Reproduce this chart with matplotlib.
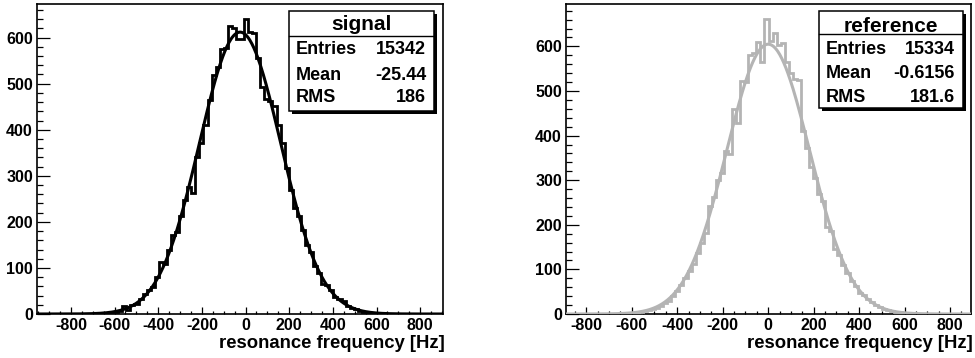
import numpy as np
import matplotlib
matplotlib.use("Agg")
import matplotlib.pyplot as plt
from matplotlib.patches import Rectangle
from matplotlib.transforms import Affine2D
from matplotlib.ticker import MultipleLocator

plt.rcParams['font.family'] = ['Liberation Sans', 'DejaVu Sans']
plt.rcParams['font.weight'] = 'bold'
plt.rcParams['axes.unicode_minus'] = False

# ---------------- data ----------------
signal_range = (-955.4, 904.6)
signal_counts = [
    0, 0, 0, 0, 0, 0, 0, 0, 0, 0,
    0, 1, 1, 0, 2, 1, 3, 2, 5, 4,
    7, 17, 8, 20, 22, 33, 44, 52, 58, 80,
    112, 108, 138, 172, 178, 212, 248, 276, 263, 340,
    372, 410, 464, 518, 536, 576, 578, 625, 622, 596,
    598, 641, 613, 611, 556, 492, 466, 462, 451, 410,
    372, 318, 270, 230, 212, 182, 150, 134, 104, 90,
    66, 62, 52, 36, 33, 28, 17, 12, 10, 7,
    5, 5, 2, 3, 1, 2, 0, 1, 0, 1,
    0, 0, 0, 0, 0, 0, 0, 0, 0, 0,
]
signal_fit = dict(amp=612.0, mean=-25.0, sigma=186.0)
signal_stats = [("Entries", "15342"), ("Mean", "-25.44"), ("RMS", "186")]

reference_range = (-889.0, 892.0)
reference_counts = [
    0, 0, 0, 0, 0, 0, 0, 0, 0, 0,
    0, 0, 1, 0, 1, 2, 2, 3, 4, 6,
    8, 11, 14, 19, 24, 29, 40, 52, 65, 80,
    96, 112, 136, 160, 182, 243, 262, 300, 317, 366,
    358, 459, 429, 522, 520, 581, 585, 611, 566, 662,
    612, 630, 604, 608, 565, 540, 528, 524, 410, 373,
    329, 306, 270, 254, 196, 187, 146, 132, 110, 92,
    75, 62, 48, 42, 33, 26, 21, 15, 12, 8,
    7, 4, 4, 2, 2, 1, 1, 0, 1, 0,
    0, 0, 0, 0, 0, 0, 0, 0, 0, 0,
]
reference_fit = dict(amp=605.0, mean=0.0, sigma=182.0)
reference_stats = [("Entries", "15334"), ("Mean", "-0.6156"), ("RMS", "181.6")]

xlabel = "resonance frequency [Hz]"

# ---------------- figure ----------------
W, H = 975, 358
fig = plt.figure(figsize=(W / 100, H / 100), dpi=100)
pix = Affine2D().scale(1 / W, -1 / H).translate(0, 1) + fig.transFigure


def panel(px_left, px_right, counts, rng, fit, color, title, stats, box):
    top, bottom = 4, 314
    ax = fig.add_axes([px_left / W, (H - bottom) / H,
                       (px_right - px_left) / W, (bottom - top) / H])
    edges = np.linspace(rng[0], rng[1], len(counts) + 1)
    ax.stairs(counts, edges, color=color, lw=2.0, zorder=3)
    xs = np.linspace(rng[0], rng[1], 600)
    ys = fit['amp'] * np.exp(-0.5 * ((xs - fit['mean']) / fit['sigma']) ** 2)
    ax.plot(xs, ys, color=color, lw=2.2, zorder=4)
    ax.set_xlim(rng)
    ax.set_ylim(0, 1.05 * max(counts))
    ax.xaxis.set_major_locator(MultipleLocator(200))
    ax.xaxis.set_minor_locator(MultipleLocator(50))
    ax.yaxis.set_major_locator(MultipleLocator(100))
    ax.yaxis.set_minor_locator(MultipleLocator(20))
    ax.tick_params(which='both', direction='in', width=0.9, labelsize=11.5)
    ax.tick_params(axis='x', which='major', length=5, pad=3)
    ax.tick_params(axis='x', which='minor', length=2.5)
    ax.tick_params(axis='y', which='major', length=9, pad=3)
    ax.tick_params(axis='y', which='minor', length=4.5)
    for lab in ax.get_xticklabels() + ax.get_yticklabels():
        lab.set_fontweight('bold')
    for s in ax.spines.values():
        s.set_linewidth(1.2)
    ax.text(1.004, -0.11, xlabel, transform=ax.transAxes, ha='right',
            va='baseline', fontsize=13.3, fontweight='bold')

    # stat box
    x0, y0, x1, y1, sep, ytitle, rows = box
    fig.add_artist(Rectangle((x0 + 3, y0 + 3), x1 - x0, y1 - y0, transform=pix,
                             facecolor='black', edgecolor='none', zorder=10))
    fig.add_artist(Rectangle((x0, y0), x1 - x0, y1 - y0, transform=pix,
                             facecolor='white', edgecolor='black', lw=1.1, zorder=11))
    fig.add_artist(plt.Line2D([x0, x1], [sep, sep], transform=pix,
                              color='black', lw=1.0, zorder=12))
    fig.text((x0 + x1) / 2, ytitle, title, transform=pix, ha='center',
             va='center', fontsize=15, fontweight='bold', zorder=12)
    for (name, val), yy in zip(stats, rows):
        fig.text(x0 + 7, yy, name, transform=pix, ha='left', va='center',
                 fontsize=13, fontweight='bold', zorder=12)
        fig.text(x1 - 8, yy, val, transform=pix, ha='right', va='center',
                 fontsize=13, fontweight='bold', zorder=12)
    return ax


panel(37, 443, signal_counts, signal_range, signal_fit, 'black', 'signal',
      signal_stats, (289, 11, 434, 111, 36, 24, (49, 75, 98)))
panel(566, 971, reference_counts, reference_range, reference_fit, '#b4b4b4',
      'reference', reference_stats, (819, 11, 963, 108, 34, 26, (49, 73, 97)))

fig.savefig("out.png", dpi=100)
